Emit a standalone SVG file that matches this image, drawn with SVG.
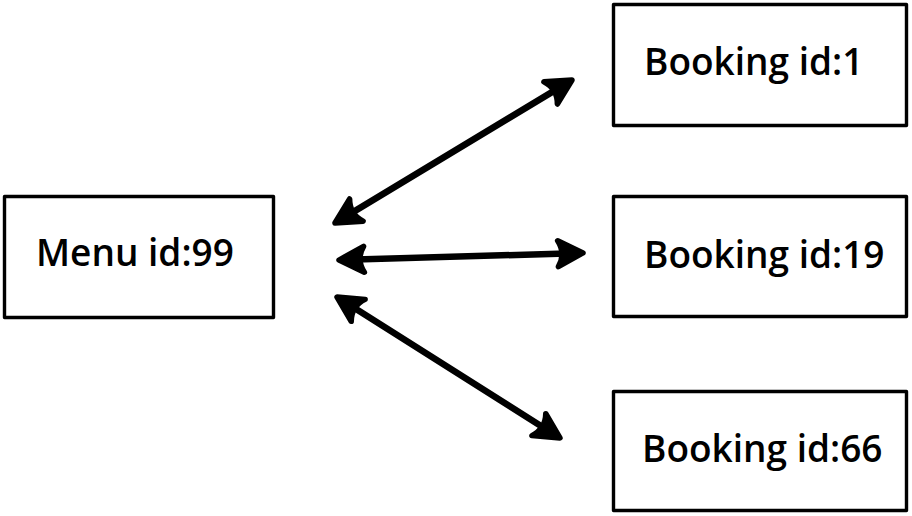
<svg xmlns="http://www.w3.org/2000/svg" width="912" height="516" viewBox="0 0 912 516">
<style>
.box{fill:#fff;stroke:#000;stroke-width:3.4;stroke-linejoin:round}
.lbl{font-family:"Open Sans","Liberation Sans",sans-serif;font-size:37px;font-weight:600;fill:#000}
.edge{stroke:#000;stroke-width:6.5;fill:none;stroke-linecap:round;marker-start:url(#ah);marker-end:url(#ah)}
</style>
<defs>
<marker id="ah" markerUnits="userSpaceOnUse" orient="auto-start-reverse" refX="-8" refY="0" markerWidth="40" markerHeight="40" overflow="visible">
<path d="M-25,-13 L0,0 L-25,13 Q-17,0 -25,-13 Z" fill="#000" stroke="#000" stroke-width="5.5" stroke-linejoin="round"/>
</marker>
</defs>
<rect width="912" height="516" fill="#fff"/>
<g id="connectors">
<line class="edge" x1="341.8" y1="218.9" x2="565.2" y2="84.1"/>
<line class="edge" x1="347" y1="259.8" x2="575" y2="253.2"/>
<line class="edge" x1="343.8" y1="301.3" x2="553.2" y2="433.7"/>
</g>
<g id="menu99">
<rect class="box" x="4.5" y="196.5" width="269" height="121"/>
<text class="lbl" x="36" y="266">Menu id:99</text>
</g>
<g id="booking1">
<rect class="box" x="613.5" y="4.5" width="293" height="121"/>
<text class="lbl" x="644" y="75">Booking id:1</text>
</g>
<g id="booking19">
<rect class="box" x="613.5" y="196.5" width="293" height="120"/>
<text class="lbl" x="644" y="268">Booking id:19</text>
</g>
<g id="booking66">
<rect class="box" x="613.5" y="391.5" width="293" height="119"/>
<text class="lbl" x="642" y="462">Booking id:66</text>
</g>
</svg>
